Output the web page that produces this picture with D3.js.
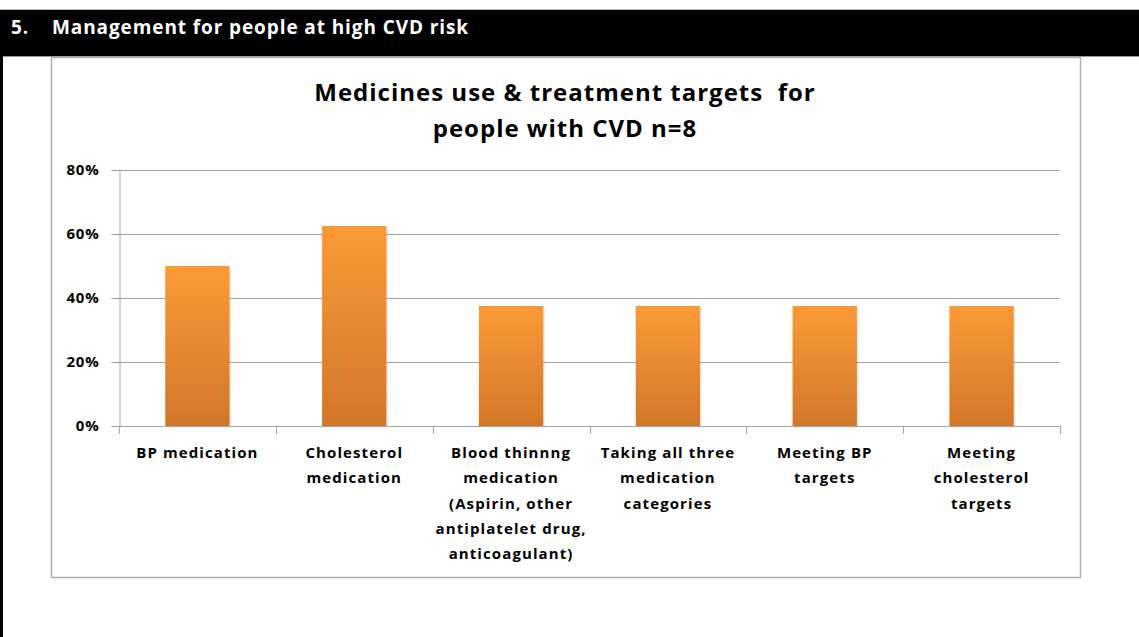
<!DOCTYPE html>
<html><head><meta charset="utf-8">
<script src="https://cdn.jsdelivr.net/npm/d3@7"></script>
<style>
html,body{margin:0;padding:0;background:#fff;}
svg{display:block;font-family:"Open Sans",Lato,sans-serif;}
text{white-space:pre;}
</style></head>
<body>
<svg id="chart" width="1139" height="637"></svg>
<script>
(function(){
const headerText = "Management for people at high CVD risk";
const headerNum = "5.";
const titleLines = ["Medicines use & treatment targets  for", "people with CVD n=8"];
const categories = [
  ["BP medication"],
  ["Cholesterol", "medication"],
  ["Blood thinnng", "medication", "(Aspirin, other", "antiplatelet drug,", "anticoagulant)"],
  ["Taking all three", "medication", "categories"],
  ["Meeting BP", "targets"],
  ["Meeting", "cholesterol", "targets"]
];
const values = [0.50, 0.625, 0.375, 0.375, 0.375, 0.375];
const yTicks = [0, 0.2, 0.4, 0.6, 0.8];

const svg = d3.select("#chart");
const defs = svg.append("defs");
const grad = defs.append("linearGradient").attr("id","barGrad").attr("x1",0).attr("y1",0).attr("x2",0).attr("y2",1);
grad.append("stop").attr("offset","0%").attr("stop-color","#FB9A36");
grad.append("stop").attr("offset","100%").attr("stop-color","#D1772A");
const f = defs.append("filter").attr("id","shadow").attr("x","-10%").attr("y","-10%").attr("width","130%").attr("height","130%");
f.append("feDropShadow").attr("dx",1).attr("dy",1).attr("stdDeviation",1).attr("flood-color","#000").attr("flood-opacity",0.15);

// page frame
svg.append("line").attr("x1",0).attr("x2",1139).attr("y1",9.5).attr("y2",9.5).attr("stroke","#bbb");
svg.append("rect").attr("x",0).attr("y",10).attr("width",1139).attr("height",46).attr("fill","#000");
svg.append("line").attr("x1",0).attr("x2",1139).attr("y1",56.5).attr("y2",56.5).attr("stroke","#999");
svg.append("rect").attr("x",0).attr("y",10).attr("width",3).attr("height",627).attr("fill","#000");

svg.append("text").attr("x",11).attr("y",34).attr("fill","#fff").attr("font-weight","bold").attr("font-size",19).attr("letter-spacing",1).text(headerNum);
svg.append("text").attr("x",52).attr("y",34).attr("fill","#fff").attr("font-weight","bold").attr("font-size",19).attr("letter-spacing",0.9).text(headerText);

// chart frame
svg.append("rect").attr("x",51.5).attr("y",57.5).attr("width",1029).attr("height",520).attr("fill","none").attr("stroke","#b0b0b0").attr("stroke-width",1.5);

// title
svg.append("text").attr("x",565).attr("text-anchor","middle").attr("font-weight","bold").attr("font-size",24).attr("letter-spacing",1).attr("fill","#000")
  .selectAll("tspan").data(titleLines).join("tspan").attr("x",565).attr("y",(d,i)=>101+i*36).text(d=>d);

const pLeft = 119, pRight = 1060, pTop = 170, pBottom = 426;
const x = d3.scaleBand().domain(d3.range(categories.length)).range([pLeft,pRight]).padding(0);
const y = d3.scaleLinear().domain([0,0.8]).range([pBottom,pTop]);

// gridlines
svg.append("g").selectAll("line").data(yTicks.filter(d=>d>0)).join("line")
  .attr("x1",pLeft).attr("x2",pRight).attr("y1",d=>Math.round(y(d))+0.5).attr("y2",d=>Math.round(y(d))+0.5)
  .attr("stroke","#a6a6a6").attr("stroke-width",1);

// y axis
const yAxis = svg.append("g").attr("transform",`translate(${pLeft+0.5},0)`)
  .call(d3.axisLeft(y).tickValues(yTicks).tickFormat(d3.format(".0%")).tickSize(8).tickPadding(12));
yAxis.select(".domain").attr("stroke","#a6a6a6");
yAxis.selectAll(".tick line").attr("stroke","#a6a6a6");
yAxis.selectAll("text").attr("font-size",15).attr("font-weight","bold").attr("fill","#000").attr("font-family","'Open Sans',sans-serif").attr("letter-spacing",0.8);

// bars
const bw = x.bandwidth()*0.41;
svg.append("g").selectAll("rect").data(values).join("rect")
  .attr("x",(d,i)=>x(i)+x.bandwidth()/2-bw/2).attr("width",bw)
  .attr("y",d=>y(d)).attr("height",d=>pBottom-y(d))
  .attr("fill","url(#barGrad)").attr("filter","url(#shadow)");

// x axis
const xAxisG = svg.append("g");
xAxisG.append("line").attr("x1",pLeft).attr("x2",pRight).attr("y1",pBottom+0.5).attr("y2",pBottom+0.5).attr("stroke","#a6a6a6");
const bounds = d3.range(categories.length+1).map(i=> i<categories.length ? x(i) : pRight);
xAxisG.selectAll(".xt").data(bounds).join("line").attr("class","xt")
  .attr("x1",d=>Math.round(d)+0.5).attr("x2",d=>Math.round(d)+0.5).attr("y1",pBottom).attr("y2",pBottom+8).attr("stroke","#a6a6a6");

const labels = svg.append("g").attr("font-size",15).attr("font-weight","bold").attr("letter-spacing",1.1).attr("fill","#000").attr("text-anchor","middle");
categories.forEach((lines,i)=>{
  const cx = x(i)+x.bandwidth()/2;
  const t = labels.append("text");
  lines.forEach((ln,j)=>{
    t.append("tspan").attr("x",cx).attr("y",458+j*25.3).text(ln);
  });
});
})();
</script>
</body></html>
